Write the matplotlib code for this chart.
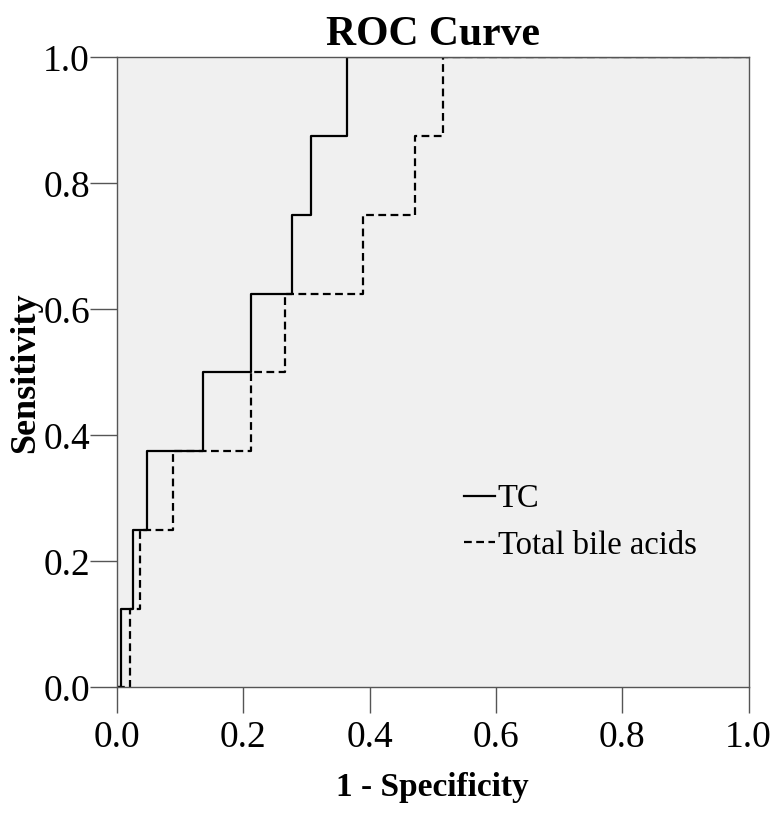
import matplotlib
matplotlib.use("Agg")
import matplotlib.pyplot as plt

# ROC corner points
tpr_levels = [0.0, 0.125, 0.25, 0.375, 0.5, 0.625, 0.75, 0.875, 1.0, 1.0]
tc_fpr = [0.0, 0.006, 0.026, 0.047, 0.136, 0.212, 0.277, 0.307, 0.364, 1.0]
bile_fpr = [0.0, 0.021, 0.037, 0.089, 0.212, 0.266, 0.389, 0.472, 0.517, 1.0]

ticks = [0.0, 0.2, 0.4, 0.6, 0.8, 1.0]
tick_labels = ["0.0", "0.2", "0.4", "0.6", "0.8", "1.0"]

plt.rcParams["font.family"] = ["Liberation Serif", "DejaVu Serif"]

fig = plt.figure(figsize=(7.81, 8.16), dpi=100)
ax = fig.add_axes([0.1498, 0.1577, 0.8086, 0.7721])
ax.set_facecolor("#f0f0f0")

ax.plot(tc_fpr, tpr_levels, drawstyle="steps-post", color="black",
        lw=1.6, label="TC")
ax.plot(bile_fpr, tpr_levels, drawstyle="steps-post", color="black",
        lw=1.6, linestyle=(0, (3.5, 2.0)), label="Total bile acids")

ax.set_xlim(0, 1)
ax.set_ylim(0, 1)
ax.set_xticks(ticks)
ax.set_xticklabels(tick_labels)
ax.set_yticks(ticks)
ax.set_yticklabels(tick_labels)

for s in ax.spines.values():
    s.set_color("#555555")
    s.set_linewidth(1.0)

ax.tick_params(axis="y", direction="out", length=19.5, width=1.0,
               color="#555555", labelsize=27, pad=0)
ax.tick_params(axis="x", direction="out", length=19, width=1.0,
               color="#555555", labelsize=27, pad=5)

ax.set_title("ROC Curve", fontsize=30, fontweight="bold", pad=9)
ax.set_xlabel("1 - Specificity", fontsize=24, fontweight="bold", labelpad=12)
ax.set_ylabel("Sensitivity", fontsize=26, fontweight="bold", labelpad=1)

ax.legend(loc="center left", bbox_to_anchor=(0.523, 0.262), frameon=False,
          fontsize=23.5, handlelength=0.95, handletextpad=0.1,
          labelspacing=0.5, borderpad=0)

fig.savefig("out.png", dpi=100)
